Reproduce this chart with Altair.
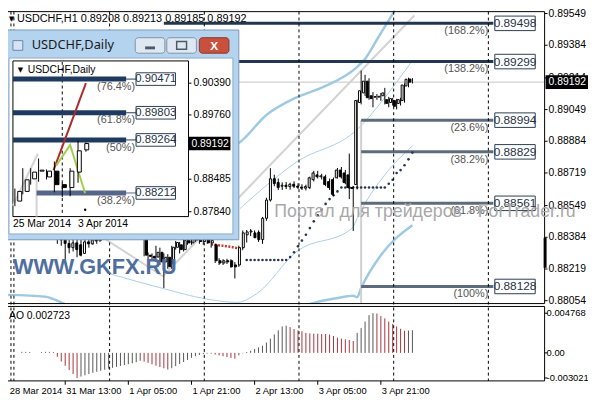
import altair as alt
import pandas as pd

# ---------------- data : USDCHF H1 ----------------
bar_index = list(range(105))
h1_open = [.88640,.88630,.88625,.88635,.88645,.88630,.88620,.88628,.88615,.88600,
           .88610,.88570,.88510,.88450,.88400,.88372,.88352,.88330,.88355,.88345,
           .88300,.88360,.88350,.88370,.88365,.88375,.88410,.88430,.88445,.88440,
           .88450,.88460,.88440,.88450,.88435,.88420,.88372,.88291,.88285,.88281,
           .88306,.88256,.88280,.88246,.88332,.88345,.88320,.88367,.88355,.88378,
           .88370,.88362,.88372,.88355,.88345,.88262,.88250,.88262,.88262,.88240,
           .88240,.88330,.88397,.88412,.88407,.88410,.88372,.88483,.88578,.88689,
           .88669,.88650,.88655,.88648,.88660,.88650,.88645,.88640,.88643,.88684,
           .88709,.88699,.88699,.88674,.88684,.88694,.88734,.88719,.88709,.88643,
           .88659,.89086,.89136,.89197,.89121,.89116,.89114,.89121,.89101,.89086,
           .89096,.89081,.89096,.89172,.89208]
h1_high = [.88660,.88650,.88645,.88660,.88665,.88650,.88640,.88645,.88635,.88625,
           .88630,.88585,.88530,.88470,.88420,.88382,.88372,.88370,.88380,.88380,
           .88370,.88380,.88385,.88390,.88385,.88420,.88440,.88460,.88470,.88465,
           .88480,.88475,.88460,.88470,.88455,.88440,.88390,.88305,.88300,.88340,
           .88330,.88300,.88296,.88340,.88365,.88360,.88375,.88385,.88385,.88395,
           .88385,.88390,.88385,.88375,.88350,.88275,.88270,.88272,.88270,.88255,
           .88340,.88420,.88422,.88427,.88420,.88420,.88490,.88590,.88744,.88710,
           .88690,.88670,.88672,.88668,.88675,.88665,.88660,.88658,.88700,.88730,
           .88730,.88715,.88710,.88690,.88695,.88745,.88750,.88735,.88820,.88650,
           .89101,.89252,.89230,.89212,.89140,.89130,.89135,.89162,.89115,.89110,
           .89105,.89110,.89185,.89215,.89213]
h1_low = [.88615,.88610,.88600,.88615,.88620,.88605,.88600,.88610,.88590,.88585,
          .88560,.88500,.88440,.88390,.88350,.88340,.88271,.88300,.88310,.88280,
          .88285,.88335,.88330,.88345,.88350,.88365,.88395,.88415,.88425,.88420,
          .88435,.88430,.88420,.88425,.88405,.88390,.88285,.88270,.88270,.88265,
          .88240,.88120,.88220,.88220,.88320,.88300,.88310,.88345,.88345,.88360,
          .88350,.88345,.88350,.88330,.88250,.88240,.88240,.88245,.88225,.88170,
          .88230,.88320,.88357,.88390,.88380,.88360,.88350,.88470,.88570,.88650,
          .88630,.88630,.88635,.88632,.88640,.88635,.88630,.88628,.88635,.88675,
          .88690,.88685,.88650,.88630,.88598,.88690,.88690,.88660,.88583,.88417,
          .88633,.89076,.89120,.89100,.89061,.89100,.89095,.89076,.89061,.89070,
          .89050,.89070,.89085,.89165,.89185]
h1_close = [.88630,.88625,.88635,.88645,.88630,.88620,.88628,.88615,.88600,.88610,
            .88570,.88510,.88450,.88400,.88370,.88352,.88330,.88355,.88320,.88291,
            .88360,.88350,.88370,.88365,.88375,.88410,.88430,.88445,.88440,.88450,
            .88460,.88440,.88450,.88435,.88420,.88400,.88291,.88285,.88276,.88306,
            .88256,.88280,.88231,.88332,.88357,.88320,.88367,.88355,.88378,.88370,
            .88362,.88372,.88355,.88367,.88262,.88250,.88262,.88256,.88231,.88230,
            .88330,.88407,.88412,.88417,.88382,.88372,.88483,.88578,.88689,.88664,
            .88643,.88655,.88648,.88660,.88650,.88645,.88640,.88648,.88694,.88719,
            .88699,.88704,.88659,.88643,.88608,.88734,.88699,.88669,.88643,.88638,
            .89096,.89147,.89197,.89111,.89106,.89114,.89118,.89136,.89081,.89106,
            .89066,.89101,.89177,.89207,.89192]

ao_values = [0, 0, 0, 0, 0, 0.00012, 0.00012, 0.00010, 0, 0,
             0.00010, 0.00012, 0.00012, 0.00010, -0.00047, -0.00105, -0.00155, -0.00205, -0.00255, -0.00302,
             -0.00285, -0.00270, -0.00255, -0.00240, -0.00228, -0.00215, -0.00203, -0.00190, -0.00180, -0.00168,
             -0.00157, -0.00146, -0.00136, -0.00125, -0.00112, -0.00095, -0.00105, -0.00120, -0.00138, -0.00155,
             -0.00170, -0.00185, -0.00200, -0.00185, -0.00160, -0.00135, -0.00110, -0.00085, -0.00060, -0.00040,
             -0.00025, -0.00015, -0.00008, -0.00010, -0.00020, -0.00030, -0.00040, -0.00050, -0.00060, -0.00070,
             -0.00030, -0.00005, 0.00010, 0.00025, 0.00047, 0.00066, 0.00085, 0.00124, 0.00171, 0.00221,
             0.00271, 0.00318, 0.00326, 0.00310, 0.00287, 0.00271, 0.00260, 0.00240, 0.00233, 0.00231,
             0.00230, 0.00228, 0.00227, 0.00221, 0.00202, 0.00182, 0.00171, 0.00163, 0.00155, 0.00143,
             0.00240, 0.00298, 0.00376, 0.00454, 0.004768, 0.00473, 0.00442, 0.00415, 0.00376, 0.00349,
             0.00318, 0.00290, 0.00265, 0.00268, 0.002723]

sar_blue_index = list(range(62, 105))
sar_blue_price = [.88266] * 11 + [.88281, .88306, .88337, .88367, .88397, .88432, .88467, .88498,
                                  .88528, .88558, .88583, .88603, .88623] + [.88643] * 12 + \
                 [.88663, .88684, .88719, .88734, .88759, .88790, .88825]
sar_red_index = list(range(53, 62))
sar_red_price = [.88347, .88345, .88342, .88340, .88337, .88334, .88330, .88326, .88322]

bb_upper_index = [50, 60, 67, 74.5, 82, 89.5, 92, 95, 99.5]
bb_upper_price = [.88809, .88875, .89021, .89111, .89172, .89262, .89313, .89413, .89564]
bb_lower_index = [0, 11, 15, 20, 70, 77, 80, 85, 89, 90, 91, 96, 104]
bb_lower_price = [.88085, .88075, .88045, .87995, .87995, .88030, .88048, .88068, .88080, .88072, .88120, .88291, .88447]
thin_a_index = [27, 41.25, 51.25, 59.5, 64.5, 74.5, 88.75, 90, 91.25, 97, 104]
thin_a_price = [.88196, .88115, .88065, .88045, .88090, .88307, .88432, .88483, .88533, .88709, .88860]
thin_b_index = [60.25, 74.5, 90.25, 97, 103.75]
thin_b_price = [.88533, .88774, .88950, .89111, .89298]
channel_index = [24.5, 40.75, 104.5]
channel_price = [.88397, .88181, .89539]

fib_levels = [0.89498, 0.89299, 0.88994, 0.88829, 0.88561, 0.88128]
fib_pct = ["(168.2%)", "(138.2%)", "(23.6%)", "(38.2%)", "(61.8%)", "(100%)"]
fib_from = [41, 41, 91, 91, 91, 91]
fib_to = [124.5] * 6
fib_color = ["#22364d", "#22364d", "#5d6b7a", "#5d6b7a", "#5d6b7a", "#5d6b7a"]
fib_anchor_index = 91

axis_prices = [0.89549, 0.89384, 0.89214, 0.89049, 0.88884, 0.88719, 0.88549, 0.88384, 0.88219, 0.88054]
current_price = 0.89192
ao_axis_values = [0.004768, 0.0, -0.003021]
ao_axis_labels = ["0.004768", "0.00", "-0.003021"]
time_label_index = [0, 16, 32, 48, 64, 80, 96]
time_labels = ["28 Mar 2014", "31 Mar 13:00", "1 Apr 05:00", "1 Apr 21:00", "2 Apr 13:00", "3 Apr 05:00", "3 Apr 21:00"]
separator_index = [2.25, 3, 27.25, 51.25, 75.25, 99.25, 123.25]

# ---------------- data : USDCHF Daily (inset window) ----------------
d_index = list(range(10))
d_open = [.88051, .88243, .88492, .88645, .88530, .88645, .88377, .88319, .88626, .89067]
d_high = [.88300, .88703, .88703, .88895, .88680, .88837, .88415, .88703, .89252, .89213]
d_low = [.87950, .88185, .88377, .88434, .88480, .88224, .88130, .88147, .88415, .89030]
d_close = [.88243, .88473, .88626, .88665, .88645, .88377, .88319, .88645, .89048, .89192]
inset_fib_levels = [0.90471, 0.89803, 0.89264, 0.88212]
inset_fib_pct = ["(76.4%)", "(61.8%)", "(50%)", "(38.2%)"]
inset_fib_from = [-0.25, -0.25, -0.25, 2.75]
inset_fib_to = [14.1] * 4
inset_fib_color = ["#1e3a5f", "#1e3a5f", "#1e3a5f", "#56658a"]
inset_axis_prices = [0.90390, 0.89760, 0.88485, 0.87840]
inset_date_index = [-0.25, 8]
inset_date_labels = ["25 Mar 2014", "3 Apr 2014"]
inset_red_index = [4.9, 9.0]
inset_red_price = [0.88665, 0.90390]
inset_green_index = [5.25, 7.0, 8.9]
inset_green_price = [0.88760, 0.89163, 0.88205]
inset_sep_index = [6.0]

# ---------------- layout helpers ----------------
# horizontal: 1:1 with the reference (left padding -8 cancels the page margin)
# vertical: slightly compressed so the whole height fits below the page margin
SY = 392 / 400
def px(v): return v
def py(v): return round(v * SY, 2)
FONT = "Liberation Sans"
one = pd.DataFrame({"k": [0]})

def box(x1, y1, x2, y2, **kw):
    return alt.Chart(one).mark_rect(**kw).encode(
        x=alt.value(px(x1)), x2=alt.value(px(x2)), y=alt.value(py(y1)), y2=alt.value(py(y2)))

def label(x, y, text, **kw):
    kw.setdefault("font", FONT)
    return alt.Chart(one).mark_text(text=text, **kw).encode(x=alt.value(px(x)), y=alt.value(py(y)))

def sc(domain, r0, r1):
    return alt.Scale(domain=domain, range=[r0, r1], nice=False, zero=False)

def mX(f): return alt.X(f, type="quantitative", scale=sc([0, 137.5], px(2), px(552)), axis=None)
def mY(f): return alt.Y(f, type="quantitative", scale=sc([0.88039, 0.89559], py(303), py(1)), axis=None)
def aY(f): return alt.Y(f, type="quantitative", scale=sc([-0.003372, 0.005582], py(383), py(306)), axis=None)
def iX(f): return alt.X(f, type="quantitative", scale=sc([-0.25, 22], px(13), px(191)), axis=None)
def iY(f): return alt.Y(f, type="quantitative", scale=sc([0.87744, 0.90831], py(213), py(52)), axis=None)

def pbox(w, h):
    half = w / 2
    return f"M-1,-{h/2/half:.3f}H1V{h/2/half:.3f}H-1Z", (2 * half) ** 2

layers = []

# ---------------- main panel ----------------
h1 = pd.DataFrame({"i": bar_index, "o": h1_open, "h": h1_high, "l": h1_low, "c": h1_close})
layers.append(box(0, 0, 596, 400, fill="white"))
layers.append(alt.Chart(pd.DataFrame({"p": [current_price]})).mark_rule(color="#c4c4c4", strokeWidth=1).encode(
    x=alt.value(px(2)), x2=alt.value(px(552)), y=mY("p")))

def line_layer(idx, vals, **kw):
    return alt.Chart(pd.DataFrame({"i": idx, "p": vals})).mark_line(**kw).encode(x=mX("i"), y=mY("p"))

layers.append(line_layer(channel_index, channel_price, color="#d3d3d3", strokeWidth=2))
layers.append(line_layer(thin_a_index, thin_a_price, color="#a9d0e4", strokeWidth=1, interpolate="monotone"))
layers.append(line_layer(thin_b_index, thin_b_price, color="#a9d0e4", strokeWidth=1, interpolate="monotone"))
layers.append(line_layer(bb_upper_index, bb_upper_price, color="#9ecae1", strokeWidth=2.5, interpolate="monotone"))
layers.append(line_layer(bb_lower_index, bb_lower_price, color="#9ecae1", strokeWidth=2.5, interpolate="monotone"))

layers.append(alt.Chart(pd.DataFrame({"i": [fib_anchor_index], "p": [fib_levels[2]], "b": [0.88039]})).mark_rule(
    color="#cfcfcf", strokeWidth=2).encode(x=mX("i"), y=mY("p"), y2="b:Q"))

fib = pd.DataFrame({"p": fib_levels, "s": fib_from, "e": fib_to, "pct": fib_pct,
                    "txt": [f"{v:.5f}" for v in fib_levels], "col": fib_color})
layers.append(alt.Chart(fib).mark_rule(strokeWidth=3).encode(
    x=mX("s"), x2="e:Q", y=mY("p"), color=alt.Color("col:N", scale=None)))
shp, sz = pbox(41, 15 * SY)
layers.append(alt.Chart(fib).mark_point(shape=shp, size=sz, filled=True, color="white", stroke="#2a3d52",
                                        strokeWidth=1, opacity=1, xOffset=22).encode(x=mX("e"), y=mY("p")))
layers.append(alt.Chart(fib).mark_text(font=FONT, fontSize=12, color="#1f3347", xOffset=22).encode(
    x=mX("e"), y=mY("p"), text="txt:N"))
layers.append(alt.Chart(fib).mark_text(font=FONT, fontSize=11, color="#555555", align="right",
                                       dx=-5, dy=py(8)).encode(x=mX("e"), y=mY("p"), text="pct:N"))

layers.append(alt.Chart(pd.DataFrame({"i": sar_red_index, "p": sar_red_price})).mark_line(
    color="#c0392b", strokeWidth=2.5, strokeDash=[2, 1.5]).encode(x=mX("i"), y=mY("p")))
layers.append(alt.Chart(pd.DataFrame({"i": sar_blue_index, "p": sar_blue_price})).mark_circle(
    size=7, color="#27364f", opacity=1).encode(x=mX("i"), y=mY("p")))

layers.append(alt.Chart(h1).mark_rule(color="black", strokeWidth=1).encode(x=mX("i"), y=mY("l"), y2="h:Q"))
layers.append(alt.Chart(h1).transform_filter("datum.c >= datum.o").mark_bar(
    size=2, fill="white", stroke="black", strokeWidth=1).encode(x=mX("i"), y=mY("o"), y2="c:Q"))
layers.append(alt.Chart(h1).transform_filter("datum.c < datum.o").mark_bar(
    size=2, fill="black", stroke="black", strokeWidth=1).encode(x=mX("i"), y=mY("o"), y2="c:Q"))

# cover overflow below the price panel
layers.append(box(0, 303.5, 596, 400, fill="white"))
layers.append(box(2, 1, 552, 303, fillOpacity=0, stroke="black", strokeWidth=1))
layers.append(box(2, 306, 552, 383, fillOpacity=0, stroke="black", strokeWidth=1))

# ---------------- AO panel ----------------
ao = pd.DataFrame({"i": bar_index, "v": ao_values})
ao["z"] = 0.0
ao["up"] = ao["v"].diff().fillna(0) >= 0
layers.append(alt.Chart(ao).transform_filter("datum.up").mark_rule(color="#555555", strokeWidth=1).encode(
    x=mX("i"), y=aY("v"), y2="z:Q"))
layers.append(alt.Chart(ao).transform_filter("!datum.up").mark_rule(color="#a8323a", strokeWidth=1).encode(
    x=mX("i"), y=aY("v"), y2="z:Q"))
layers.append(label(9, 316, "AO 0.002723", fontSize=10.5, align="left", baseline="middle"))
aoax = pd.DataFrame({"v": ao_axis_values, "t": ao_axis_labels})
layers.append(alt.Chart(aoax).mark_text(font=FONT, fontSize=9.5, align="left", baseline="middle").encode(
    x=alt.value(px(554)), y=aY("v"), text="t:N"))
layers.append(alt.Chart(aoax).mark_rule(color="black").encode(x=alt.value(px(552)), x2=alt.value(px(555)), y=aY("v")))

# separators, time axis
layers.append(alt.Chart(pd.DataFrame({"i": separator_index})).mark_rule(
    color="black", strokeWidth=1, strokeDash=[3, 3]).encode(x=mX("i"), y=alt.value(py(1)), y2=alt.value(py(383))))
tl = pd.DataFrame({"i": time_label_index, "t": time_labels})
layers.append(alt.Chart(tl).mark_rule(color="black").encode(x=mX("i"), y=alt.value(py(383)), y2=alt.value(py(387))))
layers.append(alt.Chart(tl).transform_calculate(xi="max(datum.i, 1.7)").mark_text(
    font=FONT, fontSize=9.5, align="left", baseline="middle", dx=1).encode(
    x=mX("xi"), y=alt.value(py(393)), text="t:N"))

# price axis
pax = pd.DataFrame({"p": axis_prices, "t": [f"{v:.5f}" for v in axis_prices]})
layers.append(alt.Chart(pax).mark_rule(color="black").encode(x=alt.value(px(552)), x2=alt.value(px(555)), y=mY("p")))
layers.append(alt.Chart(pax).mark_text(font=FONT, fontSize=10.5, align="left", baseline="middle").encode(
    x=alt.value(px(556)), y=mY("p"), text="t:N"))
cp = pd.DataFrame({"p": [current_price], "t": [f"{current_price:.5f}"]})
shp2, sz2 = pbox(43, 14 * SY)
layers.append(alt.Chart(cp).mark_point(shape=shp2, size=sz2, filled=True, color="black", opacity=1).encode(
    x=alt.value(px(574.5)), y=mY("p")))
layers.append(alt.Chart(cp).mark_text(font=FONT, fontSize=10.5, color="white", align="left", baseline="middle").encode(
    x=alt.value(px(556)), y=mY("p"), text="t:N"))
layers.append(box(551, 235, 554, 266, fill="black"))

# watermarks
layers.append(label(13, 265, "WWW.GKFX.RU", fontSize=22, fontWeight="bold", color="#4f6e9f", align="left", baseline="middle"))
layers.append(label(278, 208, "Портал для трейдеров - ForTrader.ru", fontSize=18, color="#a8a8a8", align="left", baseline="middle"))

# ---------------- inset window (Daily) ----------------
layers.append(box(3, 20, 242, 237, fill="#b4d3ef", stroke="#7b98b6", strokeWidth=1))
layers.append(box(9, 49, 236, 231, fill="white", stroke="#8fa9c4", strokeWidth=1))
layers.append(box(13, 31, 23, 41, fill="#d6e4f2", stroke="#6a86a8", strokeWidth=1))
layers.append(label(32, 36, "USDCHF,Daily", font="Noto Sans", fontSize=13, align="left", baseline="middle", color="#1a1a1a"))
layers.append(box(137, 28, 167, 44, fill="#dfe8f1", stroke="#7d93ab", strokeWidth=1, cornerRadius=3))
layers.append(box(169, 28, 199, 44, fill="#dfe8f1", stroke="#7d93ab", strokeWidth=1, cornerRadius=3))
layers.append(box(202, 28, 232, 44, fill="#c9503f", stroke="#8e3528", strokeWidth=1, cornerRadius=3))
layers.append(box(147, 37, 157, 40, fill="#4a5a6a"))
layers.append(box(179, 32, 189, 40, fillOpacity=0, stroke="#4a5a6a", strokeWidth=1.5))
layers.append(label(217, 36.5, "X", fontSize=12, fontWeight="bold", color="white", baseline="middle"))

layers.append(box(13, 52, 191, 213, fillOpacity=0, stroke="black", strokeWidth=1))
layers.append(label(18, 61, "▼", font="DejaVu Sans", fontSize=7, align="left", baseline="middle"))
layers.append(label(28, 61, "USDCHF,Daily", fontSize=10.5, align="left", baseline="middle"))

# inset gray helper lines
layers.append(alt.Chart(pd.DataFrame({"k": [-0.25, 2.9], "p": [0.87960, 0.88990]})).mark_line(
    color="#d3d3d3", strokeWidth=2).encode(x=iX("k"), y=iY("p")))
layers.append(alt.Chart(pd.DataFrame({"k": [2.75], "p": [0.88480], "b": [0.87744]})).mark_rule(
    color="#d3d3d3", strokeWidth=2).encode(x=iX("k"), y=iY("p"), y2="b:Q"))
layers.append(alt.Chart(pd.DataFrame({"k": inset_sep_index})).mark_rule(
    color="black", strokeDash=[3, 3]).encode(x=iX("k"), y=alt.value(py(53)), y2=alt.value(py(212))))

ifib = pd.DataFrame({"p": inset_fib_levels, "s": inset_fib_from, "e": inset_fib_to, "pct": inset_fib_pct,
                     "txt": [f"{v:.5f}" for v in inset_fib_levels], "col": inset_fib_color})
layers.append(alt.Chart(ifib).mark_rule(strokeWidth=5).encode(
    x=iX("s"), x2="e:Q", y=iY("p"), color=alt.Color("col:N", scale=None)))
layers.append(alt.Chart(ifib).mark_rule(strokeWidth=1).encode(
    x=iX("e"), x2=alt.value(px(138)), y=iY("p"), color=alt.Color("col:N", scale=None)))
shp3, sz3 = pbox(40, 13 * SY)
layers.append(alt.Chart(ifib).mark_point(shape=shp3, size=sz3, filled=True, color="white", stroke="#2a3d52",
                                         strokeWidth=1, opacity=1, xOffset=30).encode(x=iX("e"), y=iY("p")))
layers.append(alt.Chart(ifib).mark_text(font=FONT, fontSize=11.5, color="#1f3347", xOffset=30).encode(
    x=iX("e"), y=iY("p"), text="txt:N"))
layers.append(alt.Chart(ifib).mark_text(font=FONT, fontSize=11, color="#555555", align="right",
                                        dx=9, dy=py(8)).encode(x=iX("e"), y=iY("p"), text="pct:N"))

dd = pd.DataFrame({"k": d_index, "o": d_open, "h": d_high, "l": d_low, "c": d_close})
layers.append(alt.Chart(pd.DataFrame({"k": inset_red_index, "p": inset_red_price})).mark_line(
    color="#b02a2a", strokeWidth=2).encode(x=iX("k"), y=iY("p")))
layers.append(alt.Chart(pd.DataFrame({"k": inset_green_index, "p": inset_green_price})).mark_line(
    color="#9fd04a", strokeWidth=2).encode(x=iX("k"), y=iY("p")))
layers.append(alt.Chart(dd).mark_rule(color="black", strokeWidth=1).encode(x=iX("k"), y=iY("l"), y2="h:Q"))
layers.append(alt.Chart(dd).transform_filter("datum.c >= datum.o").mark_bar(
    size=4, fill="white", stroke="black", strokeWidth=1).encode(x=iX("k"), y=iY("o"), y2="c:Q"))
layers.append(alt.Chart(dd).transform_filter("datum.c < datum.o").mark_bar(
    size=4, fill="black", stroke="black", strokeWidth=1).encode(x=iX("k"), y=iY("o"), y2="c:Q"))
layers.append(alt.Chart(pd.DataFrame({"k": [8.9], "p": [0.87880]})).mark_circle(size=6, color="black", opacity=1).encode(
    x=iX("k"), y=iY("p")))

iax = pd.DataFrame({"p": inset_axis_prices, "t": [f"{v:.5f}" for v in inset_axis_prices]})
layers.append(alt.Chart(iax).mark_rule(color="black").encode(x=alt.value(px(191)), x2=alt.value(px(194)), y=iY("p")))
layers.append(alt.Chart(iax).mark_text(font=FONT, fontSize=10.5, align="left", baseline="middle").encode(
    x=alt.value(px(196)), y=iY("p"), text="t:N"))
layers.append(alt.Chart(cp).mark_point(shape=shp2, size=sz2, filled=True, color="black", opacity=1).encode(
    x=alt.value(px(212)), y=iY("p")))
layers.append(alt.Chart(cp).mark_text(font=FONT, fontSize=10.5, color="white", align="left", baseline="middle").encode(
    x=alt.value(px(194)), y=iY("p"), text="t:N"))
idt = pd.DataFrame({"k": inset_date_index, "t": inset_date_labels})
layers.append(alt.Chart(idt).mark_text(font=FONT, fontSize=10.5, align="left", baseline="middle").encode(
    x=iX("k"), y=alt.value(py(221)), text="t:N"))

# header
layers.append(label(9, 9, "▼", font="DejaVu Sans", fontSize=7, align="left", baseline="middle"))
layers.append(label(17, 9, "USDCHF,H1  0.89208 0.89213 0.89185 0.89192", fontSize=11, align="left", baseline="middle"))

chart = alt.layer(*layers).resolve_scale(x="independent", y="independent").properties(
    width=596, height=392, padding={"left": -8, "top": 0, "right": 0, "bottom": 0},
    autosize=alt.AutoSizeParams(type="none"), background="white"
).configure_view(strokeWidth=0)

chart.save("out.html", embed_options={"renderer": "svg", "actions": False})
